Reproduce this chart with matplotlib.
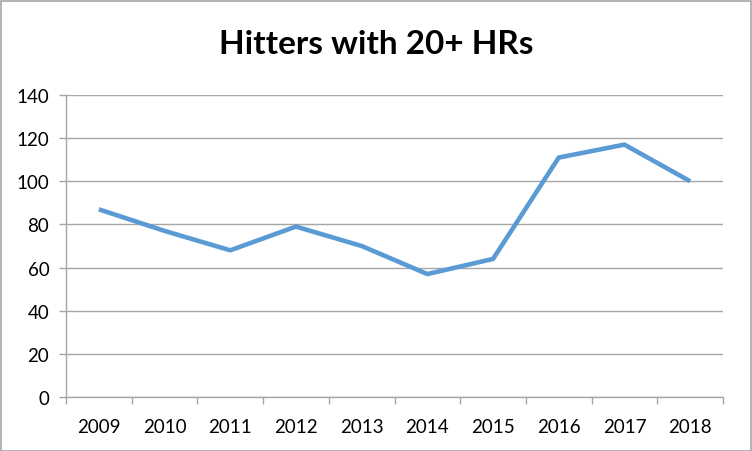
import matplotlib.pyplot as plt
from matplotlib.patches import Rectangle

years = ['2009', '2010', '2011', '2012', '2013', '2014', '2015', '2016', '2017', '2018']
hitters = [87, 77, 68, 79, 70, 57, 64, 111, 117, 100]
y_ticks = [0, 20, 40, 60, 80, 100, 120, 140]

plt.rcParams['font.family'] = ['Lato', 'DejaVu Sans']

fig = plt.figure(figsize=(7.52, 4.52), dpi=100)
ax = fig.add_axes([66 / 752, 1 - 398 / 452, (723 - 66) / 752, (398 - 96) / 452])

x = list(range(len(years)))
ax.plot(x, hitters, color='#5B9BD5', linewidth=3.3, solid_joinstyle='round', solid_capstyle='butt')

ax.set_xlim(-0.5, len(years) - 0.5)
ax.set_ylim(0, 140)
ax.set_yticks(y_ticks)
ax.set_xticks(x)
ax.set_xticklabels(years)
ax.set_xticks([i - 0.5 for i in range(len(years) + 1)], minor=True)

ax.grid(axis='y', color='#a6a6a6', linewidth=1.0)
ax.set_axisbelow(True)
for s in ['top', 'right']:
    ax.spines[s].set_visible(False)
for s in ['left', 'bottom']:
    ax.spines[s].set_color('#a6a6a6')
    ax.spines[s].set_linewidth(1.0)

ax.tick_params(axis='y', length=5, color='#a6a6a6', width=1.0, pad=7, labelsize=13.5)
ax.tick_params(axis='x', which='major', length=0, pad=15, labelsize=13.5)
ax.tick_params(axis='x', which='minor', length=5, color='#a6a6a6', width=1.0)

fig.text(0.5, 1 - 45 / 452, 'Hitters with 20+ HRs', ha='center', va='center',
         fontsize=24, fontweight='bold')

fig.patches.append(Rectangle((0.5 / 752, 0.5 / 452), 750 / 752, 450 / 452,
                             transform=fig.transFigure, fill=False,
                             edgecolor='#a6a6a6', linewidth=1.2))

fig.savefig('out.png', dpi=100)
